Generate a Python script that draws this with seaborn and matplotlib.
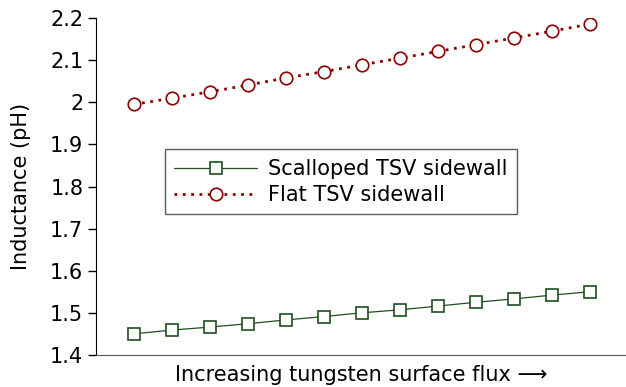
import numpy as np
import pandas as pd
import matplotlib
matplotlib.use("Agg")
import matplotlib.pyplot as plt
import seaborn as sns

# data
step = list(range(13))
scalloped = [1.450, 1.459, 1.466, 1.474, 1.483, 1.491, 1.500, 1.507, 1.516, 1.525, 1.533, 1.542, 1.550]
flat = [1.995, 2.010, 2.025, 2.041, 2.058, 2.073, 2.089, 2.105, 2.121, 2.137, 2.153, 2.169, 2.186]
yticks = [1.4, 1.5, 1.6, 1.7, 1.8, 1.9, 2.0, 2.1, 2.2]
ytick_labels = ["1.4", "1.5", "1.6", "1.7", "1.8", "1.9", "2", "2.1", "2.2"]

sns.set_style("white")
plt.rcParams['font.family'] = ['DejaVu Sans']
plt.rcParams['text.color'] = 'black'
plt.rcParams['axes.labelcolor'] = 'black'
plt.rcParams['ytick.color'] = 'black'

fig = plt.figure(figsize=(6.26, 3.87), dpi=100)
ax = fig.add_axes([0.153, 0.083, 0.847, 0.870])

sns.lineplot(x=step, y=scalloped, ax=ax, color="#1f4f1f", lw=0.9,
             marker="s", markersize=8.5, markerfacecolor="white",
             markeredgecolor="#1f4f1f", markeredgewidth=1.2,
             label="Scalloped TSV sidewall")
sns.lineplot(x=step, y=flat, ax=ax, color="#8b0000", lw=2.0, linestyle=(0, (1, 2)),
             marker="o", markersize=9, markerfacecolor="white",
             markeredgecolor="#8b0000", markeredgewidth=1.2,
             label="Flat TSV sidewall")

ax.set_xlim(-1.0, 12.95)
ax.set_ylim(1.4, 2.2)
ax.set_yticks(yticks)
ax.set_yticklabels(ytick_labels)
ax.set_xticks([])
ax.tick_params(axis="y", direction="out", length=6, width=1, labelsize=15, color="black", left=True, pad=3)
ax.spines["top"].set_visible(False)
ax.spines["right"].set_visible(False)
ax.spines["left"].set_color("black")
ax.spines["bottom"].set_color("#555555")
ax.set_ylabel("Inductance (pH)", fontsize=15, labelpad=14)
ax.set_xlabel("Increasing tungsten surface flux \u27f6", fontsize=15, labelpad=7)

leg = ax.legend(loc="upper left", bbox_to_anchor=(0.13, 0.61), fontsize=15,
                frameon=True, fancybox=False, edgecolor="#333333",
                handlelength=4.0, borderpad=0.45, labelspacing=0.3, handletextpad=0.5,
                borderaxespad=0)
leg.get_frame().set_linewidth(1.0)

fig.savefig("out.png", dpi=100)
